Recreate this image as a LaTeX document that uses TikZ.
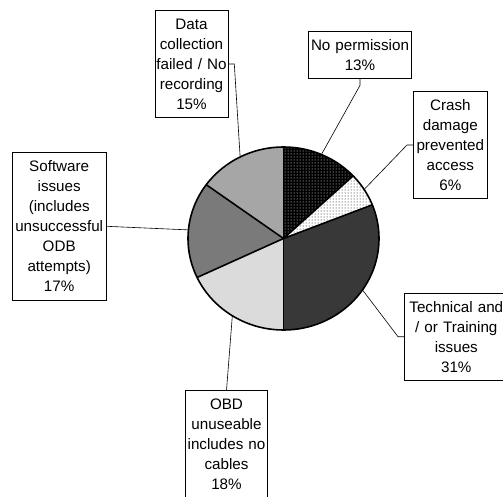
\documentclass[tikz,border=0pt]{standalone}
\usepackage{fontspec}
\setmainfont{Liberation Sans}
\usetikzlibrary{patterns,calc}
\tikzset{
  lbl/.style={draw=black, line width=0.6pt, fill=white, align=center, inner sep=0pt,
    font=\fontsize{15.2}{20}\selectfont},
  leader/.style={draw=black, line width=0.6pt},
  edge/.style={draw=black, line width=1.6pt, line join=round}
}
\newcommand{\rx}{95.5}
\newcommand{\ry}{91.5}
\newcommand{\slice}[3]{%
  \path[#3] (C) -- ($(C)+(#1:\rx pt and \ry pt)$) arc[start angle=#1, end angle=#2, x radius=\rx pt, y radius=\ry pt] -- cycle;}
\begin{document}
\begin{tikzpicture}[x=1pt,y=1pt]
\useasboundingbox (0,0) rectangle (503,496);
\coordinate (C) at (283.5,257.5);
% slices
\slice{90}{43.2}{preaction={fill=black}, pattern=dots, pattern color=white}
\slice{43.2}{21.6}{preaction={fill=white}, pattern=dots, pattern color=black}
\slice{21.6}{-90}{fill=black!78}
\slice{-90}{-154.8}{fill=black!14}
\slice{-154.8}{-216}{fill=black!52}
\slice{-216}{-270}{fill=black!35}
% boundaries
\draw[edge] (C) ellipse[x radius=\rx pt, y radius=\ry pt];
\foreach \a in {90,43.2,21.6,-90,-154.8,-216}{
  \draw[edge] (C) -- ($(C)+(\a:\rx pt and \ry pt)$);
}
% leader points on the rim
\coordinate (pnoperm) at ($(C)+(66.6:\rx pt and \ry pt)$);
\coordinate (pcrash) at ($(C)+(32.4:\rx pt and \ry pt)$);
\coordinate (ptech) at ($(C)+(-34.2:\rx pt and \ry pt)$);
\coordinate (pobd) at ($(C)+(-122.4:\rx pt and \ry pt)$);
\coordinate (psoft) at ($(C)+(174.6:\rx pt and \ry pt)$);
\coordinate (pdata) at ($(C)+(117:\rx pt and \ry pt)$);
% labels
\node[lbl, minimum width=73pt, minimum height=106.6pt, text width=73pt] (data) at (191.5,432) {Data\\collection\\failed / No\\recording\\15\%};
\node[lbl, minimum width=103.3pt, minimum height=46.7pt, text width=103.3pt] (noperm) at (360,441) {No permission\\13\%};
\node[lbl, minimum width=74pt, minimum height=106.7pt, text width=74pt] (crash) at (450.3,351) {Crash\\damage\\prevented\\access\\6\%};
\node[lbl, minimum width=104pt, minimum height=86.7pt, text width=104pt] (tech) at (456.3,159.3) {Technical and\\/ or Training\\issues\\31\%};
\node[lbl, minimum width=82.3pt, minimum height=106.7pt, text width=82.3pt] (obd) at (226.5,52) {OBD\\unuseable\\includes no\\cables\\18\%};
\node[lbl, minimum width=93.7pt, minimum height=147.3pt, text width=93.7pt] (soft) at (59.2,269.7) {Software\\issues\\(includes\\unsuccessful\\ODB\\attempts)\\17\%};
% leaders
\draw[leader] (data.east) -- ++(6,0) -- (pdata);
\draw[leader] (noperm.south) -- ++(0,-6.7) -- (pnoperm);
\draw[leader] (crash.west) -- ++(-6,0) -- (pcrash);
\draw[leader] (tech.west) -- ++(-6,0) -- (ptech);
\draw[leader] (obd.north) -- (pobd);
\draw[leader] (soft.east) -- (psoft);
\end{tikzpicture}
\end{document}
